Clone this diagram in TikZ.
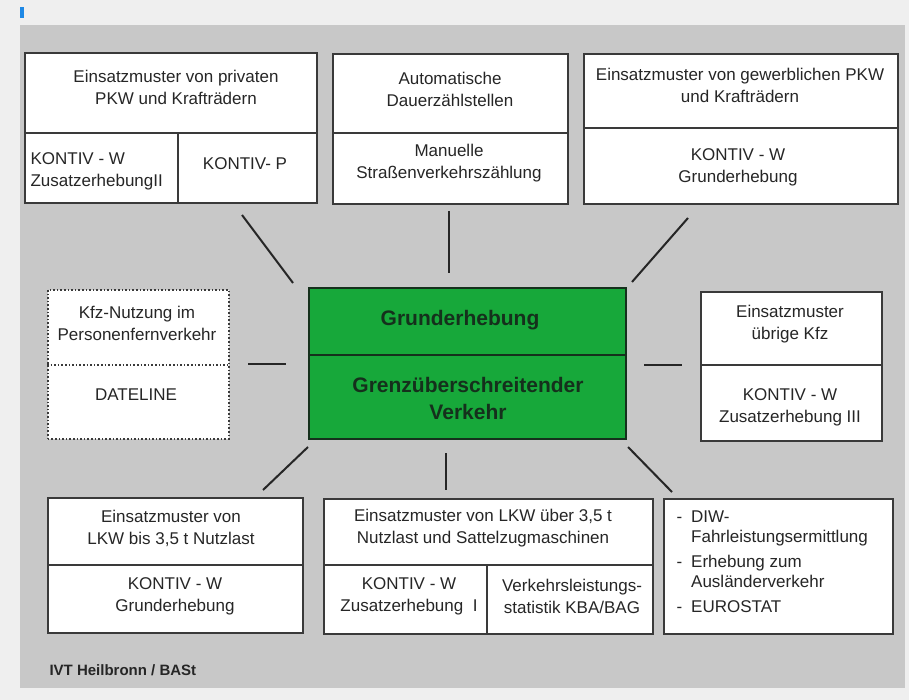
\documentclass[tikz,border=0pt]{standalone}
\usepackage{fontspec}
\setmainfont{Liberation Sans}
\usetikzlibrary{calc}
\definecolor{pagebg}{HTML}{EFEFEF}
\definecolor{panelbg}{HTML}{C8C8C8}
\definecolor{boxline}{HTML}{3A3A3A}
\definecolor{ink}{HTML}{262626}
\definecolor{kerngruen}{HTML}{17A83A}
\definecolor{kernink}{HTML}{15301C}
\definecolor{marke}{HTML}{1E88E5}
\tikzset{
  box/.style={draw=boxline, line width=1.6pt, fill=white, anchor=north west, inner sep=0pt},
  div/.style={draw=boxline, line width=1.6pt},
  txt/.style={text=ink, align=center, font=\fontsize{17}{22}\selectfont},
  link/.style={draw=ink, line width=2pt},
}

\begin{document}
\begin{tikzpicture}[x=1pt, y=-1pt]
		%%%%% START %%%%%
		\fill[pagebg] (0,0) rectangle (909,700);
		\useasboundingbox (0,0) rectangle (909,700);
		\fill[marke] (20,7) rectangle (24,18);
		\fill[panelbg] (20,25) rectangle (905,688);
		
		% oben links
		\node[box, minimum width=292pt, minimum height=150pt] (privat) at (24,52) {};
		\draw[div] (24,133) -- (316,133);
		\draw[div] (178,133) -- (178,202);
		\node[txt] (privat-a) at (176,87) {Einsatzmuster von privaten\\PKW und Krafträdern};
		\node[txt, anchor=west, align=left] (privat-b) at (27,171) {KONTIV - W\\ZusatzerhebungII};
		\node[txt] (privat-c) at (245,164) {KONTIV- P};
		
		% oben mitte
		\node[box, minimum width=235pt, minimum height=150pt] (zaehl) at (332,53) {};
		\draw[div] (332,133) -- (567,133);
		\node[txt] (zaehl-a) at (450,89) {Automatische\\Dauerzählstellen};
		\node[txt] (zaehl-b) at (449,163) {Manuelle\\Straßenverkehrszählung};
		
		% oben rechts
		\node[box, minimum width=314pt, minimum height=150pt] (gewerb) at (583,53) {};
		\draw[div] (583,128) -- (897,128);
		\node[txt] (gewerb-a) at (740,85) {Einsatzmuster von gewerblichen PKW\\und Krafträdern};
		\node[txt] (gewerb-b) at (738,167) {KONTIV - W\\Grunderhebung};
		
		% mitte links, gepunktet
		\node[box, dotted, minimum width=181pt, minimum height=149pt] (fern) at (47,289) {};
		\draw[div, dotted] (47,365) -- (228,365);
		\node[txt] (fern-a) at (137,323) {Kfz-Nutzung im\\Personenfernverkehr};
		\node[txt] (fern-b) at (136,395) {DATELINE};
		
		% kern
		\node[box, fill=kerngruen, draw=kernink, minimum width=317pt, minimum height=151pt] (kern) at (308,287) {};
		\draw[div, draw=kernink] (308,355) -- (625,355);
		\node[txt, text=kernink, font=\bfseries\fontsize{21}{27}\selectfont] (kern-a) at (460,320) {Grunderhebung};
		\node[txt, text=kernink, font=\bfseries\fontsize{21}{27}\selectfont] (kern-b) at (468,398) {Grenzüberschreitender\\Verkehr};
		
		% mitte rechts
		\node[box, minimum width=181pt, minimum height=149pt] (uebrig) at (700,291) {};
		\draw[div] (700,365) -- (881,365);
		\node[txt] (uebrig-a) at (790,324) {Einsatzmuster\\übrige Kfz};
		\node[txt] (uebrig-b) at (790,407) {KONTIV - W\\Zusatzerhebung III};
		
		% unten links
		\node[box, minimum width=255pt, minimum height=135pt] (lkwklein) at (47,497) {};
		\draw[div] (47,565) -- (302,565);
		\node[txt] (lkwklein-a) at (171,528) {Einsatzmuster von\\LKW bis 3,5 t Nutzlast};
		\node[txt] (lkwklein-b) at (175,596) {KONTIV - W\\Grunderhebung};
		
		% unten mitte
		\node[box, minimum width=329pt, minimum height=135pt] (lkwgross) at (323,498) {};
		\draw[div] (323,565) -- (652,565);
		\node[txt] (lkwgross-a) at (483,528) {Einsatzmuster von LKW über 3,5 t\\Nutzlast und Sattelzugmaschinen};
		\draw[div] (487,565) -- (487,633);
		\node[txt] (lkwgross-b) at (409,596) {KONTIV - W\\Zusatzerhebung\ \ I};
		\node[txt] (lkwgross-c) at (572,596) {Verkehrsleistungs-\\statistik KBA/BAG};
		
		% unten rechts
		\node[box, minimum width=229pt, minimum height=135pt] (sonst) at (663,498) {};
		\node[txt, anchor=west, align=left, font=\fontsize{17}{20}\selectfont] (sonst-a) at (673,563)
		  {\begin{tabular}{@{}l@{\hspace{9pt}}l@{}}
		    - & DIW-\\ & Fahrleistungsermittlung\\[5pt]
		    - & Erhebung zum\\ & Ausländerverkehr\\[5pt]
		    - & EUROSTAT
		  \end{tabular}};
		
		% verbindungen
		\coordinate (v1a) at (242,215); \coordinate (v1b) at (293,283);
		\coordinate (v2a) at (449,211); \coordinate (v2b) at (449,273);
		\coordinate (v3a) at (688,218); \coordinate (v3b) at (632,282);
		\coordinate (v4a) at (248,364); \coordinate (v4b) at (286,364);
		\coordinate (v5a) at (644,365); \coordinate (v5b) at (682,365);
		\coordinate (v6a) at (308,447); \coordinate (v6b) at (263,490);
		\coordinate (v7a) at (446,453); \coordinate (v7b) at (446,490);
		\coordinate (v8a) at (628,447); \coordinate (v8b) at (672,492);
		\foreach \s/\e in {v1a/v1b, v2a/v2b, v3a/v3b, v4a/v4b, v5a/v5b, v6a/v6b, v7a/v7b, v8a/v8b}
		  \draw[link] (\s) -- (\e);
		
		\node[anchor=west, text=ink, font=\bfseries\fontsize{15}{18}\selectfont] (quelle) at (46,670) {IVT Heilbronn / BASt};
		%%%%% END %%%%%
	\end{tikzpicture}
\end{document}
